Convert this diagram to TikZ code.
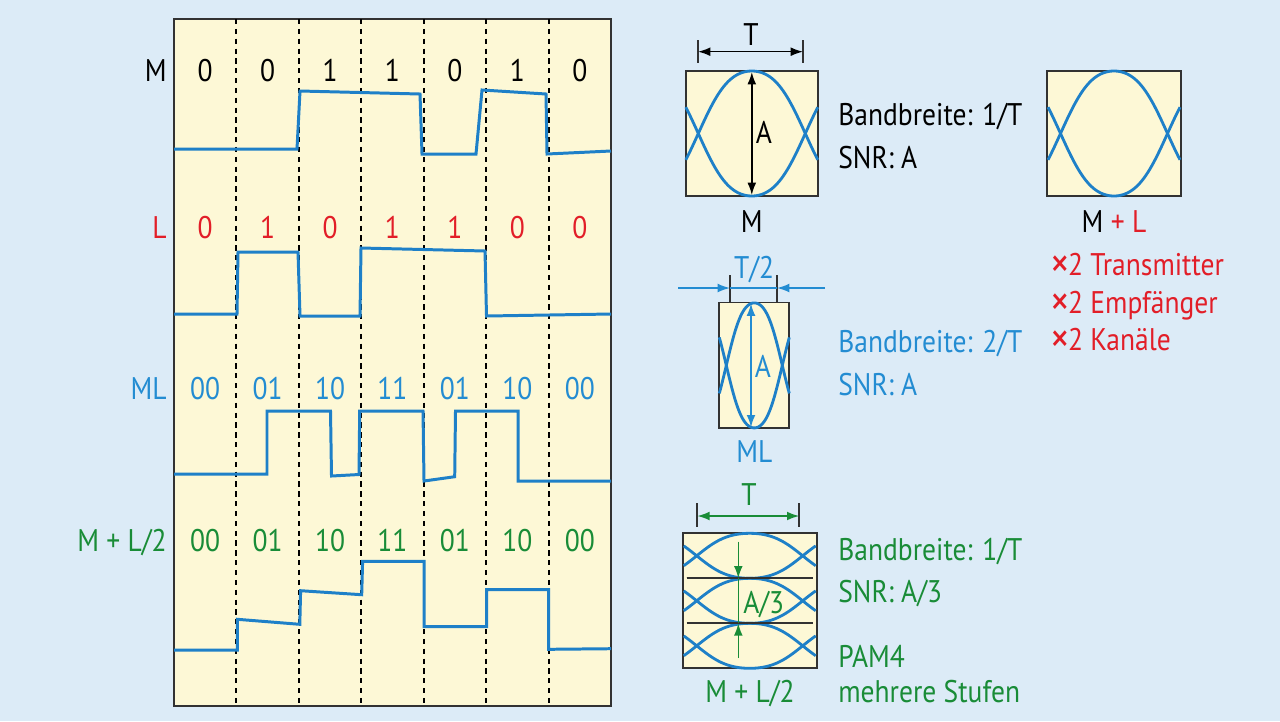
\documentclass[tikz,border=0pt]{standalone}
\usepackage{fontspec}
\setmainfont{PT Sans}[FakeStretch=0.88]
\usetikzlibrary{arrows.meta}
\definecolor{bgblue}{RGB}{220,235,247}
\definecolor{panel}{RGB}{253,248,214}
\definecolor{frame}{RGB}{50,50,50}
\definecolor{wblue}{RGB}{30,128,200}
\definecolor{tblue}{RGB}{35,140,210}
\definecolor{tred}{RGB}{226,30,40}
\definecolor{tgreen}{RGB}{25,140,55}
\tikzset{
  >={Latex[length=7pt,width=5pt]},
  wave/.style={wblue, line width=1.7pt},
  slot/.style={line width=1.2pt, dash pattern=on 3pt off 2.6pt},
  eyeline/.style={wblue, line width=1.6pt},
  eyebox/.style={fill=panel, draw=frame, line width=1.1pt},
  tick/.style={frame, line width=1pt},
  dimline/.style={line width=0.9pt},
  lbl/.style={inner sep=0pt, anchor=base},
  lblw/.style={inner sep=0pt, anchor=base west},
  lble/.style={inner sep=0pt, anchor=base east}
}
% eye: centre x, centre y, half width, amplitude, period
\newcommand{\eyeplot}[5]{%
  \draw[eyeline] plot[domain=-#3:#3, samples=70]
    ({#1+\x},{#2-#4*cos(\x*(360/#5))*(1+0.2*sin(\x*(360/#5))*sin(\x*(360/#5)))});
  \draw[eyeline] plot[domain=-#3:#3, samples=70]
    ({#1+\x},{#2+#4*cos(\x*(360/#5))*(1+0.2*sin(\x*(360/#5))*sin(\x*(360/#5)))});
}
\newcommand{\xtimes}{\smash{\raisebox{-2.2pt}{\fontsize{25}{20}\selectfont ×}}\hspace{-1pt}}
\begin{document}
\begin{tikzpicture}[x=0.02cm, y=-0.02cm, font=\fontsize{17.8}{20}\selectfont]
\fill[bgblue] (0,0) rectangle (1280,721);
% signal panel
\draw[eyebox] (174,19) rectangle (611,706);
\foreach \k in {1,...,6}
  \draw[slot] ({174+62.43*\k},19) -- ({174+62.43*\k},706);
% row names
\node[lble] (mrow) at (167,81.7) {M};
\node[lble, text=tred] (lrow) at (167,238) {L};
\node[lble, text=tblue] (mlrow) at (167,399) {ML};
\node[lble, text=tgreen] (sumrow) at (167,551) {M + L/2};
% bits
\foreach \b [count=\i from 0] in {0,0,1,1,0,1,0}
  \node[lbl] (mbit\i) at ({205.2+62.43*\i},81.7) {\b};
\foreach \b [count=\i from 0] in {0,1,0,1,1,0,0}
  \node[lbl, text=tred] (lbit\i) at ({205.2+62.43*\i},238) {\b};
\foreach \b [count=\i from 0] in {00,01,10,11,01,10,00}
  \node[lbl, text=tblue] (mlbit\i) at ({205.2+62.43*\i},399) {\b};
\foreach \b [count=\i from 0] in {00,01,10,11,01,10,00}
  \node[lbl, text=tgreen] (sumbit\i) at ({205.2+62.43*\i},551) {\b};
% waveforms
\draw[wave] (174,149) -- (297,149) -- (300,91) -- (420,94) -- (422,154) -- (476,154)
  -- (482,90) -- (546,94) -- (547,154) -- (611,151);
\draw[wave] (174,314) -- (237,314) -- (238,252) -- (298,252) -- (300,316) -- (360,316)
  -- (361,248) -- (485,251) -- (486.5,316) -- (611,314);
\draw[wave] (174,474) -- (267,474) -- (267,411) -- (330.5,411) -- (331.5,476) -- (359,474.5)
  -- (359.7,411) -- (423,411) -- (424,481) -- (454.7,476.7) -- (455.5,411) -- (518,411)
  -- (518,481) -- (611,481);
\draw[wave] (174,650) -- (237.4,650) -- (237.4,619.3) -- (299.8,624.3) -- (300.6,590.7)
  -- (361.7,594.7) -- (362.6,561.3) -- (424,561.3) -- (424,626.7) -- (486.5,626.7)
  -- (486.5,589.7) -- (548.5,589.7) -- (548.5,649.3) -- (611,648.7);
% eye M
\draw[eyebox] (685.7,71) rectangle (818,196);
\eyeplot{751.8}{133.5}{66}{62.5}{214}
\draw[dimline, <->] (751.8,72) -- (751.8,195);
\node[lbl] (ampm) at (764,143) {A};
\draw[tick] (698,40) -- (698,63);
\draw[tick] (803,40) -- (803,63);
\draw[dimline, <->] (698,51.7) -- (803,51.7);
\node[lbl] (perm) at (751,45) {T};
\node[lbl] (eyem) at (751.8,232) {M};
\node[lblw] (bwm) at (838,125) {Bandbreite: 1/T};
\node[lblw] (snrm) at (838,168) {SNR: A};
% eye M + L
\draw[eyebox] (1047,71) rectangle (1181,196);
\eyeplot{1114}{133.5}{66}{62.5}{214}
\node[lbl] (eyeboth) at (1114,232) {M {\color{tred}+ L}};
\node[lblw, text=tred] (cost1) at (1050,275) {\xtimes2 Transmitter};
\node[lblw, text=tred] (cost2) at (1050,313) {\xtimes2 Empfänger};
\node[lblw, text=tred] (cost3) at (1050,350) {\xtimes2 Kanäle};
% eye ML
\draw[eyebox] (719.3,302.5) rectangle (789.3,428.3);
\eyeplot{754.3}{365.4}{35}{62.5}{112}
\draw[tblue, dimline, <->] (751,303.5) -- (751,427.3);
\node[lbl, text=tblue] (ampml) at (763,377) {A};
\draw[tick] (730,275) -- (730,302.5);
\draw[tick] (777,275) -- (777,302.5);
\draw[tblue, dimline] (730,288) -- (777,288);
\draw[tblue, dimline, ->] (678,288) -- (730,288);
\draw[tblue, dimline, ->] (825,288) -- (777,288);
\node[lbl, text=tblue] (perml) at (754,278) {T/2};
\node[lbl, text=tblue] (eyeml) at (754.3,462) {ML};
\node[lblw, text=tblue] (bwml) at (838,352) {Bandbreite: 2/T};
\node[lblw, text=tblue] (snrml) at (838,395) {SNR: A};
% eye M + L/2
\draw[eyebox] (682.7,533.3) rectangle (816.7,668.3);
\foreach \c in {555.8,600.8,645.8}
  \eyeplot{749.7}{\c}{66}{22.5}{212}
\draw[tick] (686.7,578.3) -- (813,578.3);
\draw[tick] (686.7,623.3) -- (813,623.3);
\draw[tgreen, dimline, ->] (738.3,541.7) -- (738.3,578.3);
\draw[tgreen, dimline] (738.3,578.3) -- (738.3,623.3);
\draw[tgreen, dimline, ->] (738.3,658) -- (738.3,623.3);
\node[lblw, text=tgreen] (amp3) at (743,613) {A/3};
\draw[tick] (697.3,503) -- (697.3,526.7);
\draw[tick] (799.3,503) -- (799.3,526.7);
\draw[tgreen, dimline, <->] (697.3,516) -- (799.3,516);
\node[lbl, text=tgreen] (persum) at (749,505) {T};
\node[lbl, text=tgreen] (eyesum) at (750,702) {M + L/2};
\node[lblw, text=tgreen] (bwsum) at (838,560) {Bandbreite: 1/T};
\node[lblw, text=tgreen] (snrsum) at (838,602) {SNR: A/3};
\node[lblw, text=tgreen] (pam) at (838,667) {PAM4};
\node[lblw, text=tgreen] (steps) at (838,702) {mehrere Stufen};
\end{tikzpicture}
\end{document}
